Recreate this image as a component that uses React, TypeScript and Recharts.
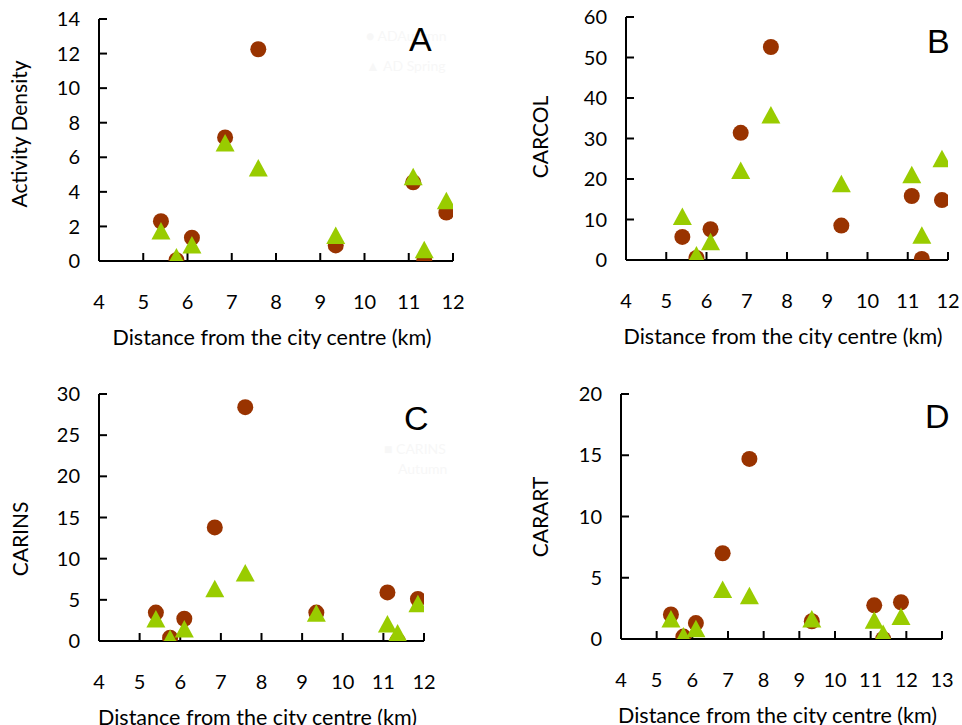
import { ScatterChart, Scatter, XAxis, YAxis } from 'recharts'

// distance from the city centre (km), same sites in every panel
const distance = [5.4, 5.75, 6.1, 6.85, 7.6, 9.35, 11.1, 11.35, 11.85]

const adAutumn = [2.3, 0.05, 1.35, 7.15, 12.25, 0.9, 4.55, 0.05, 2.8]
const adSpring = [1.7, 0.2, 0.9, 6.8, 5.35, 1.45, 4.85, 0.62, 3.45]

const carcolAutumn = [5.7, 0.5, 7.6, 31.4, 52.6, 8.5, 15.8, 0.25, 14.8]
const carcolSpring = [10.6, 1.1, 4.4, 22.0, 35.7, 18.7, 20.9, 6.0, 24.9]

const carinsAutumn = [3.45, 0.4, 2.7, 13.8, 28.4, 3.45, 5.9, 0.05, 5.1]
const carinsSpring = [2.6, 0.25, 1.4, 6.3, 8.2, 3.3, 2.0, 0.9, 4.45]

const carartAutumn = [2.0, 0.2, 1.3, 7.0, 14.7, 1.45, 2.75, 0.0, 3.0]
const carartSpring = [1.6, 0.2, 0.8, 4.0, 3.5, 1.6, 1.5, 0.4, 1.8]

const xTicks12 = [4, 5, 6, 7, 8, 9, 10, 11, 12]
const xTicks13 = [4, 5, 6, 7, 8, 9, 10, 11, 12, 13]
const yTicksA = [0, 2, 4, 6, 8, 10, 12, 14]
const yTicksB = [0, 10, 20, 30, 40, 50, 60]
const yTicksC = [0, 5, 10, 15, 20, 25, 30]
const yTicksD = [0, 5, 10, 15, 20]

const X_LABEL = 'Distance from the city centre (km)'
const FONT = 'Lato, "Open Sans", sans-serif'
const BROWN = '#993300'
const GREEN = '#99CC00'

const toPoints = (ys: number[]) => distance.map((x, i) => ({ x, y: ys[i] }))

function Dot(props: any) {
  const { cx, cy } = props
  if (cx == null || cy == null) return null
  return <circle cx={cx} cy={cy} r={8} fill={BROWN} />
}

function Tri(props: any) {
  const { cx, cy } = props
  if (cx == null || cy == null) return null
  const pts = `${cx},${cy - 9.5} ${cx - 9.5},${cy + 8} ${cx + 9.5},${cy + 8}`
  return <polygon points={pts} fill={GREEN} />
}

type PanelProps = {
  left: number; top: number; width: number; height: number
  plot: [number, number, number, number] // x0, x1, y0, y1 in page px
  xTicks: number[]; yTicks: number[]
  yLabel: string; yLabelX: number; yLabelY: number
  autumn: number[]; spring: number[]
}

function Panel(p: PanelProps) {
  const [x0, x1, y0, y1] = p.plot
  const yw = 60
  const xh = 60
  const margin = {
    left: x0 - p.left - yw,
    right: p.left + p.width - x1,
    top: y0 - p.top,
    bottom: p.top + p.height - y1 - xh,
  }
  const axisStyle = { stroke: '#000', strokeWidth: 2 }
  const tickStyle = { fontSize: 20, fill: '#000', fontFamily: FONT }
  const xMid = (x0 + x1) / 2 - p.left - 4
  return (
    <div style={{ position: 'absolute', left: p.left, top: p.top }}>
      <ScatterChart width={p.width} height={p.height} margin={margin}>
        <XAxis
          type="number" dataKey="x" domain={[p.xTicks[0], p.xTicks[p.xTicks.length - 1]]}
          ticks={p.xTicks} interval={0} height={xh} allowDataOverflow
          axisLine={axisStyle} tickLine={axisStyle} tickSize={-8} tickMargin={42} tick={tickStyle}
          label={() => (
            <text x={xMid} y={y1 - p.top + 84} textAnchor="middle" fontSize={21.5} fontFamily={FONT} fill="#000">
              {X_LABEL}
            </text>
          )}
        />
        <YAxis
          type="number" dataKey="y" domain={[0, p.yTicks[p.yTicks.length - 1]]}
          ticks={p.yTicks} interval={0} width={yw} allowDataOverflow
          axisLine={axisStyle} tickLine={axisStyle} tickSize={-8} tickMargin={27} tick={tickStyle}
          label={() => {
            const lx = p.yLabelX - p.left + 8
            const ly = p.yLabelY - p.top
            return (
              <text x={lx} y={ly} transform={`rotate(-90 ${lx} ${ly})`} textAnchor="middle"
                fontSize={21} fontFamily={FONT} fill="#000">
                {p.yLabel}
              </text>
            )
          }}
        />
        <Scatter data={toPoints(p.autumn)} shape={Dot} isAnimationActive={false} />
        <Scatter data={toPoints(p.spring)} shape={Tri} isAnimationActive={false} />
      </ScatterChart>
    </div>
  )
}

const letterStyle = (left: number, top: number): React.CSSProperties => ({
  position: 'absolute', left, top, fontFamily: '"Liberation Sans", Arial, sans-serif',
  fontSize: 34, lineHeight: '34px', color: '#000',
})

const ghostStyle = (left: number, top: number): React.CSSProperties => ({
  position: 'absolute', left, top, fontFamily: FONT, fontSize: 14, color: '#f7f7f7', whiteSpace: 'nowrap',
})

export default function App() {
  return (
    <div style={{ position: 'absolute', left: 0, top: 0, width: 962, height: 725, background: '#fff', overflow: 'hidden' }}>
      <div style={ghostStyle(366, 27)}>● ADAutumn</div>
      <div style={ghostStyle(366, 57)}>▲ AD Spring</div>
      <div style={ghostStyle(384, 440)}>■ CARINS</div>
      <div style={ghostStyle(398, 460)}>Autumn</div>

      <Panel left={0} top={0} width={481} height={360} plot={[99, 453, 19, 261]}
        xTicks={xTicks12} yTicks={yTicksA} yLabel="Activity Density" yLabelX={19} yLabelY={134}
        autumn={adAutumn} spring={adSpring} />
      <Panel left={481} top={0} width={481} height={360} plot={[626, 948, 17, 260]}
        xTicks={xTicks12} yTicks={yTicksB} yLabel="CARCOL" yLabelX={540} yLabelY={137}
        autumn={carcolAutumn} spring={carcolSpring} />
      <Panel left={0} top={360} width={481} height={380} plot={[99, 424, 394, 641]}
        xTicks={xTicks12} yTicks={yTicksC} yLabel="CARINS" yLabelX={20} yLabelY={539}
        autumn={carinsAutumn} spring={carinsSpring} />
      <Panel left={481} top={360} width={481} height={380} plot={[621, 942, 394, 639]}
        xTicks={xTicks13} yTicks={yTicksD} yLabel="CARART" yLabelX={540} yLabelY={517}
        autumn={carartAutumn} spring={carartSpring} />

      <div style={letterStyle(409, 22)}>A</div>
      <div style={letterStyle(927, 24)}>B</div>
      <div style={letterStyle(404, 401)}>C</div>
      <div style={letterStyle(925, 399)}>D</div>
    </div>
  )
}
